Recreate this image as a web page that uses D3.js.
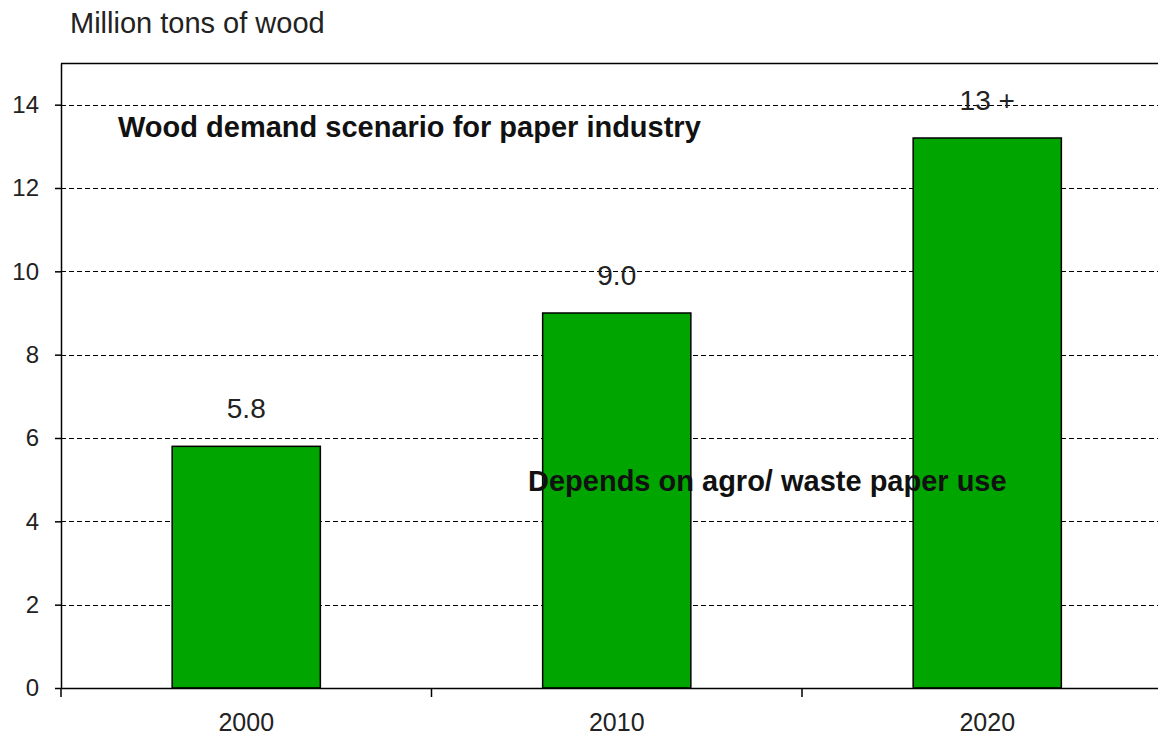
<!DOCTYPE html>
<html><head><meta charset="utf-8">
<script src="https://cdn.jsdelivr.net/npm/d3@7"></script>
<style>body{margin:0;background:#fff;} svg{display:block;font-family:"Liberation Sans",Arial,sans-serif;}</style>
</head><body>
<svg id="c" width="1158" height="738"></svg>
<script>
const categories = ["2000", "2010", "2020"];
const values = [5.8, 9.0, 13.2];
const valueLabels = ["5.8", "9.0", "13 +"];
const yTicks = [0, 2, 4, 6, 8, 10, 12, 14];
const yAxisTitle = "Million tons of wood";
const chartTitle = "Wood demand scenario for paper industry";
const noteText = "Depends on agro/ waste paper use";

(function () {
const svg = d3.select("#c");
const mLeft = 61, mTop = 63, mBottom = 688, mRight = 61 + 3 * 370.5;
const x = d3.scaleBand().domain(categories).range([mLeft, mRight]).paddingInner(0).paddingOuter(0);
const y = d3.scaleLinear().domain([0, 15]).range([mBottom, mTop]);
const FF = "Liberation Sans, Arial, sans-serif";

// gridlines
svg.append("g").selectAll("line").data(yTicks.filter(d => d > 0)).join("line")
  .attr("x1", mLeft).attr("x2", 1158)
  .attr("y1", d => Math.round(y(d)) + 0.5).attr("y2", d => Math.round(y(d)) + 0.5)
  .attr("stroke", "#000").attr("stroke-width", 1).attr("stroke-dasharray", "5,3");

// top border
svg.append("line").attr("x1", mLeft).attr("x2", 1158).attr("y1", mTop + 0.5).attr("y2", mTop + 0.5)
  .attr("stroke", "#000").attr("stroke-width", 1.5);

// bars
const bw = x.bandwidth() * 0.4;
svg.append("g").selectAll("rect").data(values).join("rect")
  .attr("x", (d, i) => x(categories[i]) + (x.bandwidth() - bw) / 2)
  .attr("width", bw)
  .attr("y", d => y(d))
  .attr("height", d => mBottom - y(d))
  .attr("fill", "#00A500").attr("stroke", "#000").attr("stroke-width", 1.5);

// value labels
svg.append("g").selectAll("text").data(values).join("text")
  .attr("x", (d, i) => x(categories[i]) + x.bandwidth() / 2)
  .attr("y", d => y(d) - 28)
  .attr("text-anchor", "middle").attr("font-size", 28).attr("fill", "#222")
  .text((d, i) => valueLabels[i]);

// y axis
const yAxis = d3.axisLeft(y).tickValues(yTicks).tickSize(6).tickPadding(16).tickSizeOuter(0);
const gy = svg.append("g").attr("transform", `translate(${mLeft},0)`).call(yAxis);
gy.select(".domain").attr("stroke", "#000").attr("stroke-width", 1.5);
gy.selectAll(".tick line").attr("stroke", "#000").attr("stroke-width", 1.5);
gy.selectAll(".tick text").attr("font-size", 24).attr("fill", "#222").attr("font-family", FF);

// x axis
const xAxis = d3.axisBottom(x).tickSize(0).tickPadding(25).tickSizeOuter(0);
const gx = svg.append("g").attr("transform", `translate(0,${mBottom})`).call(xAxis);
gx.select(".domain").attr("stroke", "#000").attr("stroke-width", 1.5);
gx.selectAll(".tick text").attr("font-size", 25).attr("fill", "#222").attr("font-family", FF);
// boundary ticks
const bounds = categories.map(c => x(c)).concat([x(categories[2]) + x.bandwidth()]);
svg.append("g").selectAll("line").data(bounds).join("line")
  .attr("x1", d => d).attr("x2", d => d).attr("y1", mBottom).attr("y2", mBottom + 9)
  .attr("stroke", "#000").attr("stroke-width", 1.5);

// texts
svg.append("text").attr("x", 70).attr("y", 33).attr("font-size", 29).attr("fill", "#222").text(yAxisTitle);
svg.append("text").attr("x", 118).attr("y", 137).attr("font-size", 29).attr("font-weight", "bold").attr("fill", "#111").text(chartTitle);
svg.append("text").attr("x", 528).attr("y", 491).attr("font-size", 29).attr("font-weight", "bold").attr("fill", "#111").text(noteText);
})();
</script>
</body></html>
